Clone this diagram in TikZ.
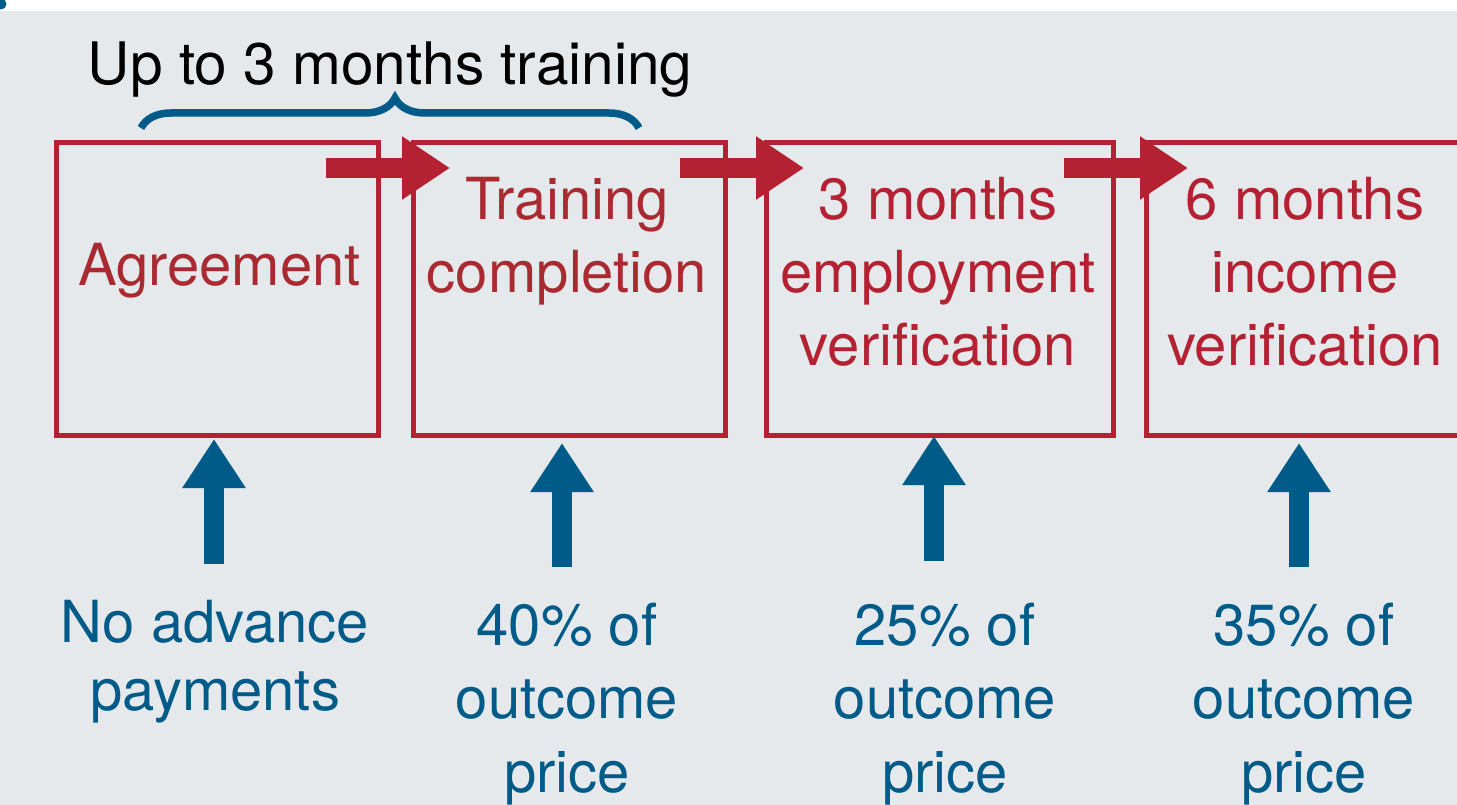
\documentclass[tikz,border=0pt]{standalone}
\usepackage{fontspec}
\setmainfont{TeX Gyre Heros}
\usetikzlibrary{decorations.pathreplacing,arrows.meta}
\definecolor{bg}{RGB}{229,233,236}
\definecolor{myred}{RGB}{180,33,50}
\definecolor{myredtxt}{RGB}{170,42,50}
\definecolor{myblue}{RGB}{0,91,136}
\newcommand\textlines[1]{\vtop{\halign{\hfil##\hfil\cr#1\crcr}}}
\begin{document}
\begin{tikzpicture}[x=1pt,y=-1pt,
  stagebox/.style={draw=myred, line width=5pt, inner sep=0pt, outer sep=0pt, minimum height=293pt},
  redtext/.style={font=\fontsize{58}{73}\selectfont, inner sep=0pt, anchor=base},
  bluetext/.style={font=\fontsize{58}{73.5}\selectfont, inner sep=0pt, anchor=base, text=myblue},
  redarrow/.style={draw=myred, line width=20pt, -{Triangle[length=48pt,width=60pt]}},
  bluearrow/.style={draw=myblue, line width=20pt, -{Triangle[length=49pt,width=60pt]}},
  bracestyle/.style={draw=myblue, line width=7.5pt, decorate, decoration={brace, amplitude=30pt, aspect=0.51}}]
\useasboundingbox (0,0) rectangle (1457,805);
\clip (0,0) rectangle (1457,805);
\fill[white] (0,0) rectangle (1457,11);
\fill[bg] (0,11) rectangle (1457,805);
\fill[myblue] (1,4) circle[radius=5.5];
% boxes
\node[stagebox, minimum width=322.5pt] (b1) at (217.25,289) {};
\node[stagebox, minimum width=312pt] (b2) at (569.5,289) {};
\node[stagebox, minimum width=347.5pt] (b3) at (939.75,289) {};
\node[stagebox, minimum width=340pt] (b4) at (1316.5,289) {};
% box texts
\node[redtext, text=myredtxt] (t1) at (219.5,285) {Agreement};
\node[redtext, text=myredtxt] (t2) at (567,220) {\textlines{Training\cr completion}};
\node[redtext, text=myred] (t3) at (938,220) {\textlines{3 months\cr employment\cr verification}};
\node[redtext, text=myred] (t4) at (1305,220) {\textlines{6 months\cr income\cr verification}};
% title and brace
\node[font=\fontsize{58.6}{70}\selectfont, inner sep=0pt, anchor=base] (title) at (390,85) {Up to 3 months training};
\coordinate (brL) at (141,128);
\coordinate (brR) at (639,128);
\draw[bracestyle] (brL) -- (brR);
% red arrows
\coordinate (r1s) at (326,168); \coordinate (r1e) at (450,168);
\coordinate (r2s) at (680,168); \coordinate (r2e) at (804,168);
\coordinate (r3s) at (1064,168); \coordinate (r3e) at (1188,168);
\draw[redarrow] (r1s) -- (r1e);
\draw[redarrow] (r2s) -- (r2e);
\draw[redarrow] (r3s) -- (r3e);
% payment texts
\node[bluetext, font=\fontsize{58}{68}\selectfont] (p1) at (215,642) {\textlines{No advance\cr payments}};
\node[bluetext] (p2) at (567,645) {\textlines{40\% of\cr outcome\cr price}};
\node[bluetext] (p3) at (945,645) {\textlines{25\% of\cr outcome\cr price}};
\node[bluetext] (p4) at (1304,645) {\textlines{35\% of\cr outcome\cr price}};
% blue arrows
\coordinate (u1s) at (214,564); \coordinate (u1e) at (214,439);
\coordinate (u2s) at (562,567); \coordinate (u2e) at (562,443);
\coordinate (u3s) at (934,561); \coordinate (u3e) at (934,436);
\coordinate (u4s) at (1299,567); \coordinate (u4e) at (1299,443);
\draw[bluearrow] (u1s) -- (u1e);
\draw[bluearrow] (u2s) -- (u2e);
\draw[bluearrow] (u3s) -- (u3e);
\draw[bluearrow] (u4s) -- (u4e);
\end{tikzpicture}
\end{document}
